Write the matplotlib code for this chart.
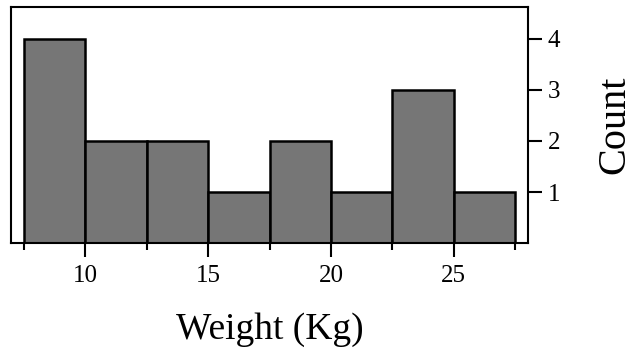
import numpy as np
import matplotlib.pyplot as plt

plt.rcParams['font.family'] = ['Liberation Serif', 'DejaVu Serif']

# histogram of weights
bin_edges = [7.5, 10, 12.5, 15, 17.5, 20, 22.5, 25, 27.5]
counts = [4, 2, 2, 1, 2, 1, 3, 1]
x_ticks = [10, 15, 20, 25]
y_ticks = [1, 2, 3, 4]

fig = plt.figure(figsize=(6.33, 3.56), dpi=100)
ax = fig.add_axes([0.0174, 0.317, 0.817, 0.663])

widths = np.diff(bin_edges)
ax.bar(bin_edges[:-1], counts, width=widths, align='edge',
       color='#767676', edgecolor='black', linewidth=1.8)

ax.set_xlim(6.97, 28.03)
ax.set_ylim(0, 4.62)

ax.set_xticks(x_ticks)
ax.set_xticks(bin_edges, minor=True)
ax.set_yticks(y_ticks)
ax.yaxis.tick_right()
ax.yaxis.set_label_position('right')

ax.tick_params(axis='x', which='major', length=10, width=1.5, pad=6,
               labelsize=18, colors='black')
ax.tick_params(axis='x', which='minor', length=5, width=1.5)
ax.tick_params(axis='y', which='major', length=10, width=1.5, pad=4,
               labelsize=18)

for s in ax.spines.values():
    s.set_linewidth(1.5)

ax.set_xlabel('Weight (Kg)', fontsize=27, labelpad=18)
ax.set_ylabel('Count', fontsize=29, labelpad=26)

fig.savefig('out.png', dpi=100)
